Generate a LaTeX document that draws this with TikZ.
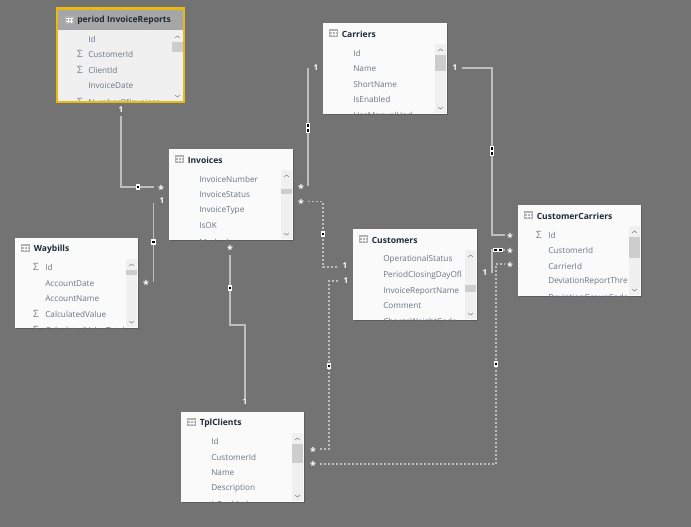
\documentclass[tikz,border=0pt]{standalone}
\usepackage{fontspec}
\setmainfont{Open Sans}
\definecolor{canvas}{HTML}{737373}
\definecolor{panel}{HTML}{FAFAFA}
\definecolor{track}{HTML}{F0F0F0}
\definecolor{thumb}{HTML}{CDCDCD}
\definecolor{edge}{HTML}{BEBEBE}
\definecolor{field}{HTML}{6A7585}
\definecolor{heading}{HTML}{1F2A36}
\definecolor{gold}{HTML}{E6BC12}
\tikzset{
  x=0.75pt, y=-0.75pt,
  link/.style={draw=edge, line width=0.85pt},
  dashlink/.style={draw=edge, line width=0.85pt, dash pattern=on 1.5pt off 1.5pt},
  fieldtext/.style={anchor=west, inner sep=0pt, font=\fontsize{6.15}{7}\selectfont, text=field},
  titletext/.style={anchor=west, inner sep=0pt, font=\fontsize{6.4}{8}\selectfont\bfseries, text=heading},
  sumtext/.style={anchor=center, inner sep=0pt, font=\fontsize{7.5}{8}\selectfont, text=gray},
  onelabel/.style={inner sep=0pt, font=\fontsize{6}{7}\selectfont\bfseries, text=white},
  manylabel/.style={inner sep=0pt, font=\fontsize{8}{8}\selectfont\bfseries, text=white},
  dirbox/.style={draw=none, fill=white, minimum width=3.4pt, minimum height=5pt, inner sep=0pt},
  dirmark/.style={fill=black, minimum width=2pt, minimum height=1.8pt, inner sep=0pt},
}
% Small grid icon placed in front of a table title
\newcommand{\tableglyph}[2]{%
  \fill[gray!60] (#1,#2-4) rectangle (#1+9,#2+4);
  \draw[white, line width=.3pt] (#1+.7,#2-1.5) -- (#1+8.3,#2-1.5) (#1+.7,#2+1.2) -- (#1+8.3,#2+1.2)
     (#1+3.1,#2-1.5) -- (#1+3.1,#2+3.4) (#1+6,#2-1.5) -- (#1+6,#2+3.4);
}
% One table card: name, x0, y0, x1, y1, title, thumb top, thumb bottom
\newcommand{\tablecard}[8]{%
  \fill[black, opacity=.2] (#2+1,#3+1) rectangle (#4+1,#5+1);
  \fill[panel] (#2,#3) rectangle (#4,#5);
  \fill[track] (#4-12,#3+21) rectangle (#4-1,#5-1);
  \fill[thumb] (#4-12,#7) rectangle (#4-1,#8);
  \draw[gray, line width=.4pt] (#4-9,#3+28) -- (#4-6.5,#3+26) -- (#4-4,#3+28);
  \draw[gray, line width=.4pt] (#4-9,#5-7) -- (#4-6.5,#5-5) -- (#4-4,#5-7);
  \tableglyph{#2+6}{#3+10}
  \node[titletext] (#1) at (#2+18.5,#3+11) {#6};
}
\begin{document}
\begin{tikzpicture}
\useasboundingbox (0,0) rectangle (691,527);
\fill[canvas] (0,0) rectangle (691,527);

% Relationship lines
\coordinate (a1) at (121,116); \coordinate (a2) at (121,187); \coordinate (a3) at (154,187);
\draw[link] (a1) -- (a2) -- (a3);
\coordinate (b1) at (153.5,203); \coordinate (b2) at (153.5,282);
\draw[link] (b1) -- (b2);
\coordinate (c1) at (230,255); \coordinate (c2) at (230,325); \coordinate (c3) at (245,325); \coordinate (c4) at (245,398);
\draw[link] (c1) -- (c2) -- (c3) -- (c4);
\coordinate (d1) at (308,186); \coordinate (d2) at (308,68);
\draw[link] (d1) -- (d2);
\coordinate (e1) at (308,201.5); \coordinate (e2) at (323,201.5); \coordinate (e3) at (323,267); \coordinate (e4) at (338,267);
\draw[dashlink] (e1) -- (e2) -- (e3) -- (e4);
\coordinate (f1) at (462,68); \coordinate (f2) at (492,68); \coordinate (f3) at (492,235); \coordinate (f4) at (505,235);
\draw[link] (f1) -- (f2) -- (f3) -- (f4);
\coordinate (g1) at (492,273); \coordinate (g2) at (492,250); \coordinate (g3) at (505,250);
\draw[link] (g1) -- (g2) -- (g3);
\coordinate (h1) at (338,281); \coordinate (h2) at (329,281); \coordinate (h3) at (329,449); \coordinate (h4) at (320,449);
\draw[dashlink] (h1) -- (h2) -- (h3) -- (h4);
\coordinate (i1) at (320,464); \coordinate (i2) at (496,464); \coordinate (i3) at (496,264); \coordinate (i4) at (505,264);
\draw[dashlink] (i1) -- (i2) -- (i3) -- (i4);

% Cross-filter direction markers
\foreach \nm/\px/\py in {ma/138/187,mb/153.5/242,mc/230/288,me/323/234,mh/329/366,mi/496/364}{
  \node[dirbox] (\nm) at (\px,\py) {};
  \node[dirmark] (\nm-dot) at (\px,\py) {};
}
\foreach \nm/\px/\py in {md/308/128,mf/492/151}{
  \node[dirbox, minimum height=6.8pt] (\nm) at (\px,\py) {};
  \node[dirmark] (\nm-up) at (\px,\py-2.5) {};
  \node[dirmark] (\nm-dn) at (\px,\py+2.5) {};
}
\node[dirbox, minimum width=7pt, minimum height=3.6pt] (mg) at (498,250) {};
\node[dirmark] (mg-l) at (495.5,250) {};
\node[dirmark] (mg-r) at (500.5,250) {};

% Cardinality labels
\foreach \nm/\px/\py in {oa/121/110,ob/162/201,oc/245/402,od/316/68,of/455/68,oe/345/266,oh/346/281,og/485/273}{
  \node[onelabel] (\nm) at (\px,\py) {1};
}
\foreach \nm/\px/\py in {sa/161/187,sb/146/282,sc/230/247,sd/301/186,se/301/201,sf/510/235,sg/510/250,si/510/264,sh/313/449,sj/313/463}{
  \node[manylabel] (\nm) at (\px,\py+2.5) {*};
}

% period InvoiceReports
\fill[gold] (56,7) rectangle (185,103);
\fill[track] (58,10) rectangle (183,101);
\fill[black!35] (58,10) rectangle (183,30);
\fill[thumb] (172,42) rectangle (183,52);
\draw[gray, line width=.4pt] (175,38) -- (177.5,36) -- (180,38) (175,95) -- (177.5,97) -- (180,95);
\tableglyph{65}{20}
\node[titletext] (rep) at (77,20) {period InvoiceReports};
\begin{scope}
  \clip (58,30) rectangle (170,101);
  \node[fieldtext] (rep1) at (88,39) {Id};
  \node[fieldtext] (rep2) at (88,54) {CustomerId};
  \node[fieldtext] (rep3) at (88,70) {ClientId};
  \node[fieldtext] (rep4) at (88,86) {InvoiceDate};
  \node[fieldtext] (rep5) at (88,102) {NumberOfInvoices};
  \node[sumtext] (rep2s) at (80,54) {Σ};
  \node[sumtext] (rep3s) at (80,70) {Σ};
  \node[sumtext] (rep5s) at (80,102) {Σ};
\end{scope}

% Invoices
\tablecard{inv}{169}{149}{293}{240}{Invoices}{189}{194}
\begin{scope}
  \clip (169,170) rectangle (280,240);
  \node[fieldtext] (inv1) at (199,179.5) {InvoiceNumber};
  \node[fieldtext] (inv2) at (199,194.5) {InvoiceStatus};
  \node[fieldtext] (inv3) at (199,210.5) {InvoiceType};
  \node[fieldtext] (inv4) at (199,226) {IsOK};
  \node[fieldtext] (inv5) at (199,242.5) {Marked};
\end{scope}

% Waybills
\tablecard{way}{15}{238}{138}{328}{Waybills}{270}{275}
\begin{scope}
  \clip (15,258) rectangle (126,328);
  \node[fieldtext] (way1) at (45,267) {Id};
  \node[fieldtext] (way2) at (45,283.5) {AccountDate};
  \node[fieldtext] (way3) at (45,299) {AccountName};
  \node[fieldtext] (way4) at (45,314) {CalculatedValue};
  \node[fieldtext] (way5) at (45,330) {CalculatedValueTotal};
  \node[sumtext] (way1s) at (36,267) {Σ};
  \node[sumtext] (way4s) at (36,314) {Σ};
  \node[sumtext] (way5s) at (36,330) {Σ};
\end{scope}

% Carriers
\tablecard{car}{323}{23}{447}{114}{Carriers}{55}{71}
\begin{scope}
  \clip (323,44) rectangle (434,114);
  \node[fieldtext] (car1) at (353,53) {Id};
  \node[fieldtext] (car2) at (353,68.5) {Name};
  \node[fieldtext] (car3) at (353,84) {ShortName};
  \node[fieldtext] (car4) at (353,99) {IsEnabled};
  \node[fieldtext] (car5) at (353,116.5) {HasManualUpd};
\end{scope}

% Customers
\tablecard{cus}{353}{229}{477}{320}{Customers}{285}{292}
\begin{scope}
  \clip (353,250) rectangle (464,320);
  \node[fieldtext] (cus1) at (383,259) {OperationalStatus};
  \node[fieldtext] (cus2) at (383,275) {PeriodClosingDayOfl};
  \node[fieldtext] (cus3) at (383,291) {InvoiceReportName};
  \node[fieldtext] (cus4) at (383,306) {Comment};
  \node[fieldtext] (cus5) at (383,322.5) {ChargeWeightCode};
\end{scope}

% CustomerCarriers
\tablecard{cc}{518}{205}{641}{296}{CustomerCarriers}{237}{258}
\begin{scope}
  \clip (518,226) rectangle (629,296);
  \node[fieldtext] (cc1) at (548,235) {Id};
  \node[fieldtext] (cc2) at (548,250) {CustomerId};
  \node[fieldtext] (cc3) at (548,266) {CarrierId};
  \node[fieldtext] (cc4) at (548,281) {DeviationReportThre};
  \node[fieldtext] (cc5) at (548,298) {DeviationGroupCode};
  \node[sumtext] (cc1s) at (539,235) {Σ};
\end{scope}

% TplClients
\tablecard{tpl}{181}{412}{304}{502}{TplClients}{444}{463}
\begin{scope}
  \clip (181,433) rectangle (292,502);
  \node[fieldtext] (tpl1) at (211,441) {Id};
  \node[fieldtext] (tpl2) at (211,457) {CustomerId};
  \node[fieldtext] (tpl3) at (211,472.5) {Name};
  \node[fieldtext] (tpl4) at (211,488) {Description};
  \node[fieldtext] (tpl5) at (211,504) {IsEnabled};
\end{scope}
\end{tikzpicture}
\end{document}
